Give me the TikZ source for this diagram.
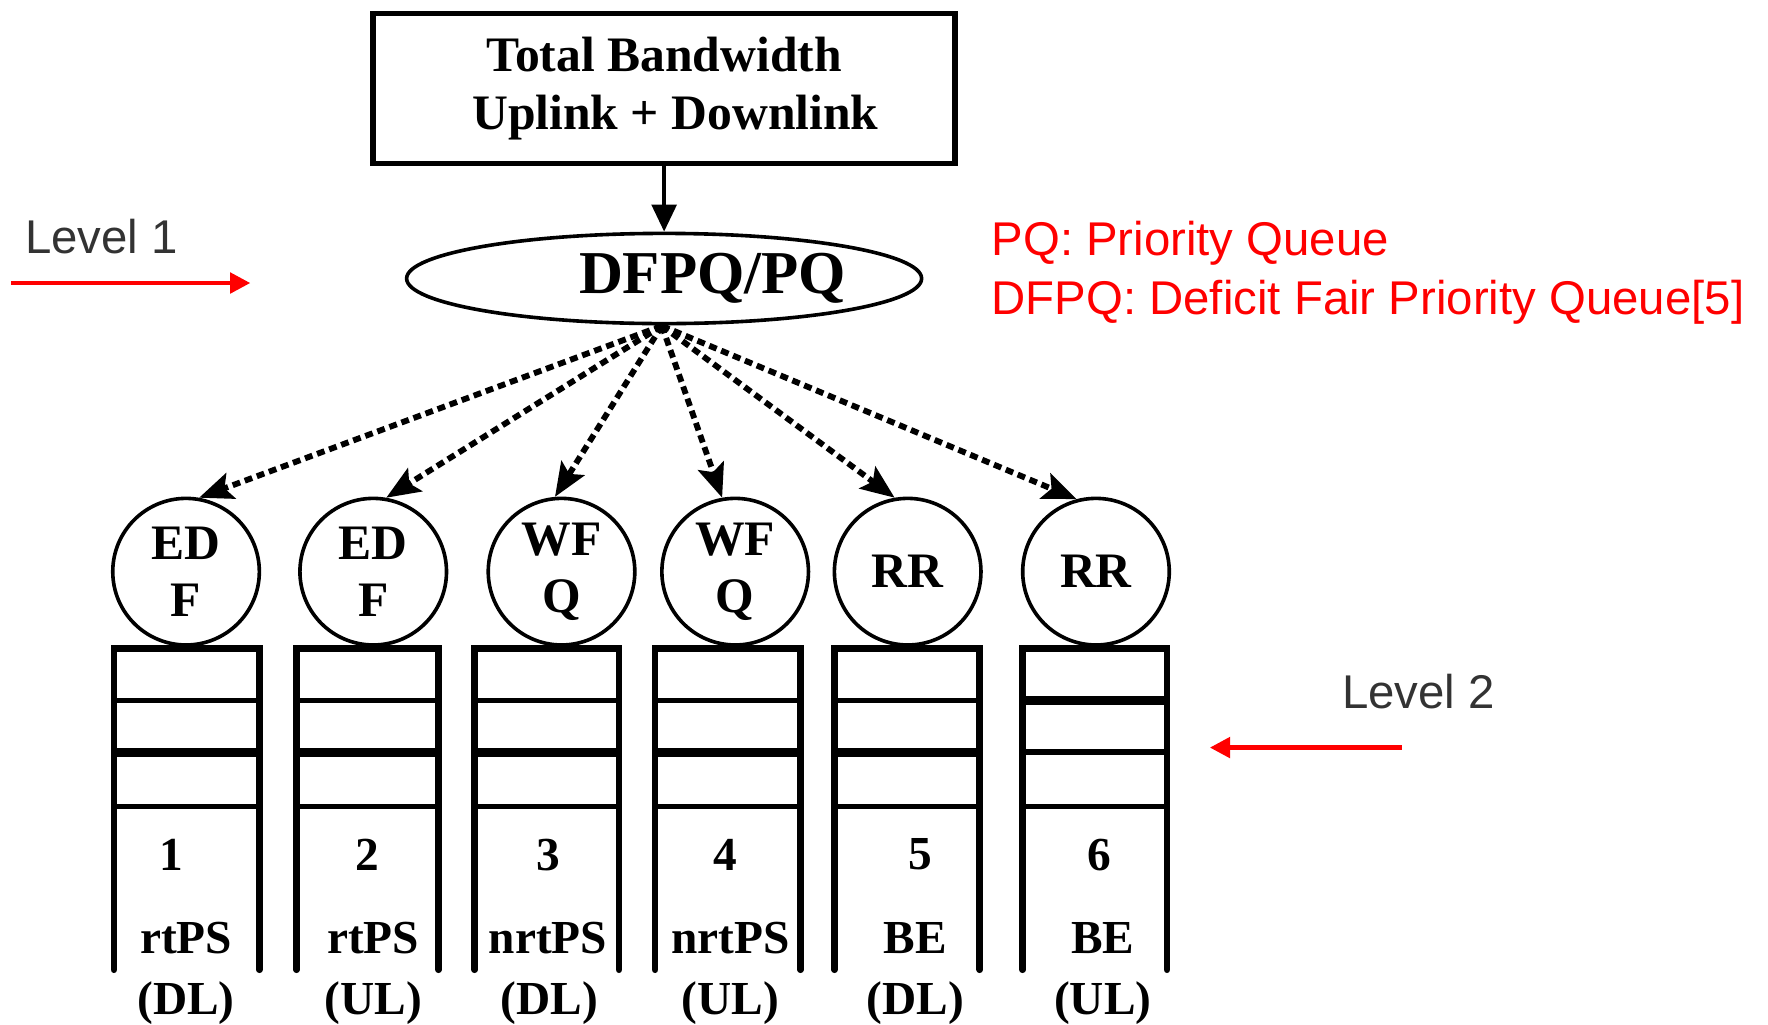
\documentclass[tikz,border=0pt]{standalone}
\usepackage{fontspec}
\setmainfont{Liberation Serif}
\newfontfamily\arialfont{Liberation Sans}
\usetikzlibrary{shapes.geometric,arrows.meta}
\definecolor{lvlgray}{HTML}{333333}
\tikzset{
  bw/.style={font=\bfseries\fontsize{22}{25.5}\selectfont},
  qlab/.style={font=\bfseries\fontsize{21}{24}\selectfont, inner sep=0pt},
  sched/.style={circle, draw, line width=1.6pt, minimum size=65pt, inner sep=0pt, align=center, font=\bfseries\fontsize{22}{25.5}\selectfont},
  dasharrow/.style={line width=2.6pt, dash pattern=on 3.5pt off 2.2pt, -{Stealth[length=15pt,width=12pt,inset=3pt]}},
  qwall/.style={line width=3pt},
  redtxt/.style={text=red, font=\arialfont\fontsize{21}{24}\selectfont, inner sep=0pt, anchor=west},
  lvltxt/.style={text=lvlgray, font=\arialfont\fontsize{21}{24}\selectfont, inner sep=0pt},
  redarrow/.style={red, line width=2pt, -{Triangle[length=9pt,width=9pt]}},
}
\begin{document}
\begin{tikzpicture}[x=0.5pt,y=-0.5pt]
\useasboundingbox (0,0) rectangle (1568,909);
% top box
\node[draw, line width=2.6pt, minimum width=258pt, minimum height=66.5pt, align=center, bw] (box) at (589,78.5) {Total Bandwidth\\\hspace*{10pt}Uplink + Downlink};
% ellipse
\node[ellipse, draw, line width=1.6pt, minimum width=225pt, minimum height=40pt, inner sep=0pt, font=\bfseries\fontsize{27}{30}\selectfont] (dfpq) at (589,247) {\hspace*{43pt}DFPQ/PQ};
\draw[line width=1.6pt, -{Triangle[length=12pt,width=11pt]}] (box) -- (dfpq);
% schedulers
\node[sched] (c1) at (165,507) {ED\\F};
\node[sched] (c2) at (331,507) {ED\\F};
\node[sched] (c3) at (498,507) {WF\\Q};
\node[sched] (c4) at (652,507) {WF\\Q};
\node[sched] (c5) at (805,507) {RR};
\node[sched] (c6) at (972,507) {RR};
\coordinate (src) at (587,289);
\draw[dasharrow] (src) -- (c1.80);
\draw[dasharrow] (src) -- (c2.80);
\draw[dasharrow] (src) -- (c3.95);
\draw[dasharrow] (src) -- (c4.100);
\draw[dasharrow] (src) -- (c5.100);
\draw[dasharrow] (src) -- (c6.105);
% queues
\foreach \l/\r/\wa/\wb in {101/230/2.3/4, 263/389/2.3/4, 421/549/2.3/4, 581/710/2.3/4, 740/869/2.3/4, 907/1035/4/2.3}{
  \draw[qwall, line cap=round] (\l,860) -- (\l,575) -- (\r,575) -- (\r,860);
  \draw[line width=\wa pt] (\l,621) -- (\r,621);
  \draw[line width=\wb pt] (\l,667) -- (\r,667);
  \draw[line width=2.3pt] (\l,715) -- (\r,715);
}
% labels
\node[qlab] (n1) at (152,758) {1};
\node[qlab] (n2) at (326,758) {2};
\node[qlab] (n3) at (486,758) {3};
\node[qlab] (n4) at (643,758) {4};
\node[qlab] (n5) at (816,758) {5};
\node[qlab] (n6) at (975,758) {6};
\node[qlab] (t1) at (165,832) {rtPS};
\node[qlab] (t2) at (331,832) {rtPS};
\node[qlab] (t3) at (486,832) {nrtPS};
\node[qlab] (t4) at (648,832) {nrtPS};
\node[qlab] (t5) at (812,832) {BE};
\node[qlab] (t6) at (978,832) {BE};
\node[qlab] (d1) at (165,890) {(DL)};
\node[qlab] (d2) at (331,890) {(UL)};
\node[qlab] (d3) at (487,890) {(DL)};
\node[qlab] (d4) at (648,890) {(UL)};
\node[qlab] (d5) at (812,890) {(DL)};
\node[qlab] (d6) at (978,890) {(UL)};
% red legend
\node[redtxt] (pq) at (879,216) {PQ: Priority Queue};
\node[redtxt] (dfpqt) at (879,268) {DFPQ: Deficit Fair Priority Queue[5]};
% levels
\node[lvltxt] (lv1) at (90,210) {Level 1};
\coordinate (a1s) at (10,251);
\coordinate (a1e) at (222,251);
\draw[redarrow] (a1s) -- (a1e);
\node[lvltxt] (lv2) at (1258,613) {Level 2};
\coordinate (a2s) at (1243,663);
\coordinate (a2e) at (1073,663);
\draw[redarrow] (a2s) -- (a2e);
\end{tikzpicture}
\end{document}
